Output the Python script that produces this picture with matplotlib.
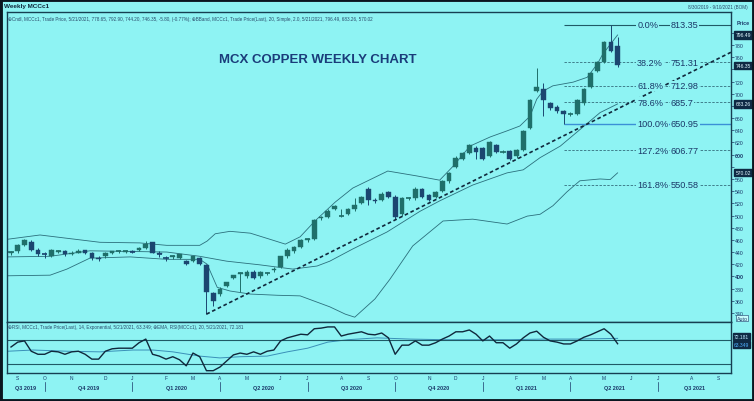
import numpy as np
import pandas as pd
import matplotlib
matplotlib.use("Agg")
import matplotlib.pyplot as plt
from matplotlib.patches import Rectangle
from matplotlib.transforms import blended_transform_factory

plt.rcParams['font.family'] = ['Liberation Sans', 'DejaVu Sans']

# === colours ===
BG = "#8ef3f3"
FRAME = "#163f52"
UP = "#1f6f6a"
DOWN = "#1b4670"
BAND = "#2b6f7c"
TXT = "#1a3868"

# === data: weekly candles, first bar 2019-08-30, last bar 2021-05-21 ===
START = "2019-08-30"
AXIS_END = "2021-09-24"

opens = [439, 441, 452, 457, 444, 437, 434, 440, 441, 437, 439, 443, 439, 431, 433, 438,
         441, 440, 441, 443, 446, 456, 438, 431, 432, 430, 426, 425, 430, 418, 372, 371,
         384, 397, 404, 400, 407, 400, 405, 410, 416, 433, 441, 448, 460, 461, 496, 498,
         511, 500, 503, 510, 521, 544, 526, 525, 539, 531, 503, 528, 528, 543, 533, 531,
         541, 556, 580, 593, 603, 611, 611, 598, 615, 605, 606, 597, 608, 644, 705, 707,
         684, 679, 672, 667, 667, 684, 711, 738, 752, 785, 778.65]
highs = [442, 453, 461, 460, 446, 440, 445, 444, 443, 441, 445, 444, 440, 433, 440, 442,
         443, 443, 443, 448, 458, 457, 442, 434, 435, 437, 427, 434, 432, 420, 374, 382,
         391, 403, 407, 410, 410, 409, 407, 415, 434, 446, 450, 461, 463, 495, 500, 510,
         518, 510, 512, 529, 532, 547, 528, 538, 541, 533, 530, 530, 546, 545, 535, 541,
         559, 571, 597, 604, 618, 614, 613, 622, 617, 608, 608, 610, 641, 692, 743, 718,
         687, 681, 674, 670, 691, 710, 736, 754, 787, 813.35, 792.90]
lows = [435, 439, 450, 441, 433, 431, 432, 438, 434, 435, 438, 437, 427, 425, 431, 436,
        439, 438, 439, 441, 445, 438, 432, 425, 429, 428, 418, 423, 418, 338, 351, 368,
        382, 395, 374, 398, 395, 398, 403, 408, 414, 431, 439, 446, 457, 459, 493, 496,
        509, 498, 501, 508, 519, 517, 521, 523, 528, 495, 500, 526, 526, 529, 524, 529,
        539, 554, 578, 591, 601, 592, 591, 596, 603, 602, 591, 595, 606, 642, 703, 664,
        673, 668, 650.95, 664, 665, 682, 709, 736, 750, 768, 744.20]
closes = [440, 451, 459, 443, 436, 436, 443, 441, 436, 439, 441, 438, 430, 428, 438, 441,
          441, 441, 440, 447, 454, 439, 437, 430, 433, 436, 420, 433, 421, 374, 360, 380,
          390, 402, 405, 408, 398, 408, 405, 412, 433, 443, 448, 459, 461, 493, 498, 508,
          516, 500, 510, 518, 530, 526, 523, 536, 530, 497, 528, 528, 544, 531, 526, 539,
          557, 569, 595, 602, 616, 605, 593, 620, 605, 605, 593, 608, 639, 690, 711, 689,
          677, 672, 667, 667, 689, 708, 734, 752, 785, 770, 746.35]

# Bollinger band (20, 2.0) at sample bars
upper_idx = [-0.5, 4.3, 13.2, 19.1, 23.1, 28.0, 29.1, 30.3, 32.5, 35.5, 38.4, 40.7, 42.9, 45.1,
             48.1, 50.7, 55.9, 60.2, 63.6, 65.6, 68.1, 71.1, 73.6, 75.5, 77.0, 78.0, 78.9,
             80.4, 83.4, 85.5, 87.0, 87.8, 90.0]
upper_val = [461, 468, 456, 455, 451, 451, 458, 470, 474, 471, 461, 453, 465, 491,
             522, 545, 573, 565, 558, 581, 614, 629, 639, 647, 663, 691, 704,
             713, 719, 727, 749, 765, 796.49]
mid_idx = [-0.5, 5.8, 11.7, 23.1, 28.0, 32.0, 36.9, 41.8, 45.4, 47.3, 50.7, 55.8, 60.7,
           63.6, 68.5, 73.6, 76.0, 78.5, 81.5, 84.4, 87.4, 90.0]
mid_val = [432, 433, 442, 440, 433, 425, 419, 412, 417, 425, 445, 473, 507,
           524, 550, 570, 575, 595, 614, 641, 669, 683.26]
lower_idx = [-0.5, 5.8, 8.3, 11.7, 17.7, 23.1, 28.0, 29.1, 30.6, 32.5, 35.5, 39.5, 42.9,
             47.3, 49.6, 51.0, 54.0, 56.2, 59.6, 64.1, 68.5, 73.6, 76.6, 78.5, 80.4, 82.5,
             84.4, 87.4, 88.9, 90.0]
lower_val = [401, 402, 412, 430, 432, 428, 428, 420, 382, 376, 371, 369, 368,
             350, 338, 333, 363, 395, 450, 491, 494, 486, 499, 502, 516, 539,
             557, 560, 559, 570.02]

# trend line (two anchor points) and fibonacci retracement levels
trend_idx = [29, 106.8]
trend_val = [338, 768]
fib_start = 82
fib_pct = ["0.0%", "38.2%", "61.8%", "78.6%", "100.0%", "127.2%", "161.8%"]
fib_val = [813.35, 751.31, 712.98, 685.7, 650.95, 606.77, 550.58]
fib_txt = ["813.35", "751.31", "712.98", "685.7", "650.95", "606.77", "550.58"]

# RSI(14) per bar and its EMA(20) at sample bars
rsi = [58, 66, 68, 51, 46, 46, 51, 50, 46, 50, 51, 46, 38, 38, 51, 55,
       56, 56, 56, 65, 71, 46, 43, 38, 42, 37, 27, 48, 42, 19, 19, 25,
       35, 45, 48, 46, 50, 46, 51, 53, 68, 73, 76, 79, 78, 88, 89, 91,
       91, 76, 79, 81, 83, 79, 78, 81, 73, 46, 61, 61, 68, 61, 61, 65,
       71, 76, 83, 83, 86, 79, 68, 76, 65, 65, 56, 63, 73, 81, 84, 74,
       68, 66, 63, 63, 68, 74, 78, 83, 88, 79, 63.349]
ema_idx = [-0.5, 3.3, 8.3, 13.2, 18.1, 21.1, 24, 28, 31, 34, 38, 41, 44, 47, 50,
           54.3, 59.2, 64.2, 69.1, 74, 79.1, 84, 90]
ema_val = [51, 53, 51, 50, 53, 53, 50, 43, 40, 42, 43, 50, 56, 66, 70,
           73, 71, 70, 70, 70, 71, 71, 72.181]

right_boxes = [796.49, 746.35, 683.26, 570.02]

opens, highs, lows, closes = map(np.array, (opens, highs, lows, closes))
x = np.arange(len(closes))
weeks = pd.date_range(START, AXIS_END, freq="W-FRI")

W, H = 754, 402
fig = plt.figure(figsize=(W / 100, H / 100), dpi=100, facecolor=BG)

L, R, T, MID, BOT = 7, 731, 13, 323, 374
XL = (L - 11) / 6.74
XR = (R - 11) / 6.74

ax = fig.add_axes([L / W, (H - MID) / H, (R - L) / W, (MID - T) / H], facecolor=BG)
ax2 = fig.add_axes([L / W, (H - BOT) / H, (R - L) / W, (BOT - MID) / H], facecolor=BG)

# --- price panel ---
up = closes >= opens
cols = np.where(up, UP, DOWN)
ax.vlines(x, lows, highs, colors=cols, lw=0.7, zorder=3)
ax.bar(x, closes - opens, bottom=opens, width=0.7, color=cols, edgecolor=cols,
       lw=0.3, zorder=4)
flat = np.abs(closes - opens) < 1.5
ax.hlines(closes[flat], x[flat] - 0.38, x[flat] + 0.38, colors=cols[flat], lw=1.2, zorder=4)

for bi, bv in ((upper_idx, upper_val), (mid_idx, mid_val), (lower_idx, lower_val)):
    ax.plot(bi, bv, color=BAND, lw=0.6, zorder=2)

ax.plot(trend_idx, trend_val, color="#10283c", lw=1.2, ls=(0, (2.2, 1.6)), zorder=5)

bb = dict(facecolor=BG, edgecolor="none", pad=0.5)
for pct, val, vtxt in zip(fib_pct, fib_val, fib_txt):
    if pct == "0.0%":
        ax.hlines(val, fib_start, XR, color="#1f5a66", lw=0.8, zorder=2)
    elif pct == "100.0%":
        ax.hlines(val, fib_start, XR, color="#3b8fd6", lw=1.0, zorder=2)
    else:
        ax.hlines(val, fib_start, XR, color="#3f7f8c", lw=0.7, ls=(0, (2.5, 1.5)), zorder=2)
    ax.text(92.9, val, pct, fontsize=6.6, color=TXT, va="center", ha="left",
            bbox=bb, zorder=6)
    ax.text(97.9, val, vtxt, fontsize=6.6, color=TXT, va="center", ha="left",
            bbox=bb, zorder=6)

ax.text(0.4296, 0.848, "MCX COPPER WEEKLY CHART", transform=ax.transAxes, ha="center",
        va="center", fontsize=9.5, fontweight="bold", color="#1a3c7a")

ax.set_xlim(XL, XR)
ax.set_ylim(325.1, 834.2)
ax.yaxis.tick_right()
yt = np.arange(340, 801, 20)
ax.set_yticks(yt)
ax.set_yticklabels(["" if v in (580, 680, 740, 800) else str(v) for v in yt])
ax.tick_params(axis="y", labelsize=3.8, colors=TXT, length=2, width=0.5, pad=1)
ax.tick_params(axis="x", bottom=False, labelbottom=False)
for lab in ax.get_yticklabels():
    if lab.get_text() in ("400", "600"):
        lab.set_fontweight("bold")
for sp in ax.spines.values():
    sp.set_color(FRAME)
    sp.set_linewidth(1.0)

trp = blended_transform_factory(ax.transAxes, ax.transData)
for val in right_boxes:
    ax.text(1.006, val, f"{val:.2f}", transform=trp,
            fontsize=3.6, color="#dff7ff", va="center", ha="left",
            bbox=dict(facecolor="#0f2a44", edgecolor="#0f2a44", pad=0.8))
ax.text(1.008, 0.975, "Price", transform=ax.transAxes, fontsize=3.8, color=TXT,
        va="top", ha="left", fontweight="bold")
ax.text(1.008, 0.012, "Auto", transform=ax.transAxes, fontsize=3.8, color=TXT, va="center",
        ha="left", bbox=dict(facecolor="#c8fbfb", edgecolor=TXT, lw=0.4, pad=0.4))

ax.text(0.002, 0.988, "\u2295Cndl, MCCc1, Trade Price, 5/21/2021, 778.65, 792.90, 744.20, "
        "746.35, -5.80, (-0.77%); \u2295BBand, MCCc1, Trade Price(Last), 20, Simple, 2.0, "
        "5/21/2021, 796.49, 683.26, 570.02", transform=ax.transAxes, fontsize=3.3,
        color="#2a4a6a", va="top", ha="left")

# --- RSI panel ---
ax2.plot(x, rsi, color="#10283c", lw=1.0, zorder=3)
ax2.plot(ema_idx, ema_val, color="#3a90b8", lw=0.7, zorder=2)
ax2.axhline(70, color="#1f5a66", lw=0.8)
ax2.axhline(30, color="#1f5a66", lw=0.8)
ax2.set_xlim(XL, XR)
ax2.set_ylim(15.2, 99.1)
ax2.set_xticks([])
ax2.set_yticks([])
for sp in ax2.spines.values():
    sp.set_color(FRAME)
    sp.set_linewidth(1.0)
ax2.text(0.002, 0.96, "\u2295RSI, MCCc1, Trade Price(Last), 14, Exponential, 5/21/2021, "
         "63.349; \u2295EMA, RSI(MCCc1), 20, 5/21/2021, 72.181", transform=ax2.transAxes,
         fontsize=3.3, color="#2a4a6a", va="top", ha="left")
tr2 = blended_transform_factory(ax2.transAxes, ax2.transData)
ax2.text(1.004, 75.5, "72.181", transform=tr2, fontsize=3.6, color="#bfe8ff", va="center",
         ha="left", bbox=dict(facecolor="#0f2a44", edgecolor="#0f2a44", pad=0.6))
ax2.text(1.004, 62.5, "63.349", transform=tr2, fontsize=3.6, color="#4fb0ff", va="center",
         ha="left", bbox=dict(facecolor="#0f2a44", edgecolor="#0f2a44", pad=0.6))

# --- date axis: month letters, quarter labels and separators ---
trb = blended_transform_factory(ax2.transData, ax2.transAxes)
wk = pd.Series(np.arange(len(weeks)), index=weeks)
first_of_month = wk.groupby([weeks.year, weeks.month]).first()
first_of_month = first_of_month[first_of_month > 0]   # Aug 2019 is only a partial month
for (yr, mo), i in first_of_month.items():
    ax2.text(i, -0.08, "JFMAMJJASOND"[mo - 1], transform=trb, fontsize=3.5, color=TXT,
             ha="center", va="center", clip_on=False)
q_starts = [(yr, mo, i) for (yr, mo), i in first_of_month.items() if mo in (1, 4, 7, 10)]
bounds = [XL] + [i for _, _, i in q_starts] + [XR]
q_names = ["Q3 2019"] + [f"Q{(mo - 1) // 3 + 1} {yr}" for yr, mo, _ in q_starts]
for k, name in enumerate(q_names):
    ax2.text((bounds[k] + bounds[k + 1]) / 2, -0.275, name, transform=trb, fontsize=4,
             fontweight="bold", color=TXT, ha="center", va="center", clip_on=False)
for _, _, i in q_starts:
    ax2.plot([i, i], [-0.18, -0.36], transform=trb, color=TXT, lw=0.5, clip_on=False)

# --- header and frame ---
fig.text(4 / W, 1 - 6.5 / H, "Weekly MCCc1", fontsize=4.6, fontweight="bold", color="#10283c",
         va="center", ha="left")
fig.text(748 / W, 1 - 7 / H, "8/30/2019 - 9/10/2021 (BOM)", fontsize=3.3, color="#2a4a6a",
         va="center", ha="right")
fig.add_artist(Rectangle((0, 0), 1, 1, transform=fig.transFigure, fill=False, lw=3.5,
                         edgecolor="#0a1620"))

fig.savefig("out.png", dpi=100, facecolor=BG)
